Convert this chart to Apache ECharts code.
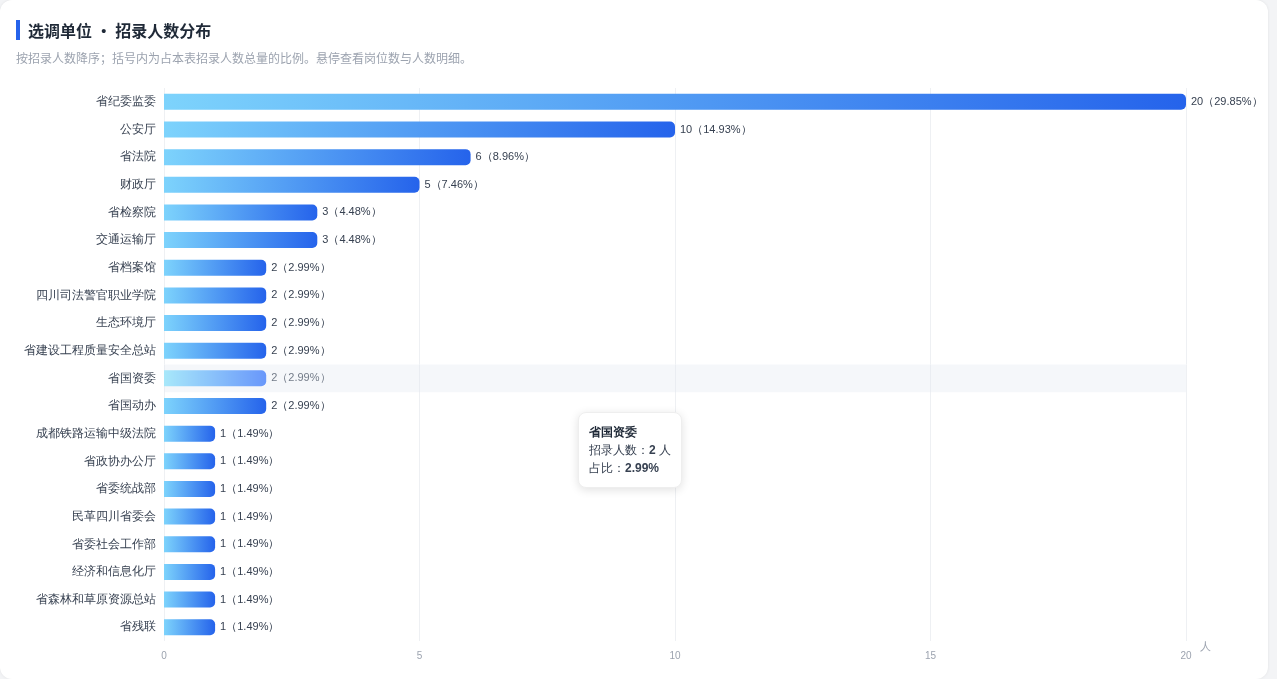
<!DOCTYPE html>
<html><head><meta charset="utf-8">
<script src="https://cdn.jsdelivr.net/npm/echarts@6/dist/echarts.min.js"></script>
<style>
html,body{margin:0;padding:0;background:#f3f4f6;font-family:"Noto Sans CJK SC","Noto Sans",sans-serif;}
#card{position:absolute;left:0;top:0;width:1268px;height:679px;background:#fff;border-radius:12px;overflow:hidden;box-shadow:0 0 3px rgba(0,0,0,0.08);}
#title{position:absolute;left:16px;top:20px;font-size:16px;font-weight:bold;color:#1f2937;border-left:4px solid #2563eb;padding-left:8px;line-height:20px;}
#sub{position:absolute;left:16px;top:49px;font-size:12px;color:#9ca3af;}
#chart{position:absolute;left:0;top:0;width:1268px;height:679px;}
</style></head><body>
<div id="card"><div id="chart"></div><div id="title">选调单位 • 招录人数分布</div><div id="sub">按招录人数降序；括号内为占本表招录人数总量的比例。悬停查看岗位数与人数明细。</div></div>
<script>
const categories=["省纪委监委","公安厅","省法院","财政厅","省检察院","交通运输厅","省档案馆","四川司法警官职业学院","生态环境厅","省建设工程质量安全总站","省国资委","省国动办","成都铁路运输中级法院","省政协办公厅","省委统战部","民革四川省委会","省委社会工作部","经济和信息化厅","省森林和草原资源总站","省残联"];
const values=[20,10,6,5,3,3,2,2,2,2,2,2,1,1,1,1,1,1,1,1];
const percents=["29.85","14.93","8.96","7.46","4.48","4.48","2.99","2.99","2.99","2.99","2.99","2.99","1.49","1.49","1.49","1.49","1.49","1.49","1.49","1.49"];
const chart=echarts.init(document.getElementById('chart'));
chart.setOption({
  animation:false,
  grid:{left:164,right:82,top:88,bottom:38,containLabel:false},
  tooltip:{trigger:'axis',axisPointer:{type:'shadow',shadowStyle:{color:'rgba(226,232,240,0.35)'}},
    backgroundColor:'#fff',borderColor:'#eee',borderWidth:1,padding:[10,10],extraCssText:'border-radius:8px;box-shadow:0 2px 10px rgba(0,0,0,0.12);',
    textStyle:{fontSize:12,color:'#374151'},
    formatter:p=>{const i=p[0].dataIndex;return '<b style="color:#1f2937">'+categories[i]+'</b><br/>招录人数：<b>'+values[i]+'</b> 人<br/>占比：<b>'+percents[i]+'%</b>';},
    position:[578,412]},
  xAxis:{type:'value',min:0,max:20,interval:5,name:'人',nameGap:14,nameTextStyle:{color:'#9ca3af',fontSize:11,verticalAlign:'top',padding:[0,0,0,0]},
    axisLabel:{color:'#9ca3af',fontSize:10,margin:10},splitLine:{lineStyle:{color:'#eef0f3'}},axisLine:{show:false},axisTick:{show:false}},
  yAxis:{type:'category',inverse:true,data:categories,axisLabel:{color:'#374151',fontSize:12,margin:8},axisLine:{show:false},axisTick:{show:false}},
  series:[{type:'bar',barWidth:16,data:values,
    itemStyle:{borderRadius:[0,5,5,0],color:new echarts.graphic.LinearGradient(0,0,1,0,[{offset:0,color:'#7dd3fc'},{offset:1,color:'#2563eb'}])},
    label:{show:true,position:'right',distance:5,color:'#374151',fontSize:11,formatter:p=>p.value+'（'+percents[p.dataIndex]+'%）'}}]
});
chart.dispatchAction({type:'showTip',seriesIndex:0,dataIndex:10});
</script></body></html>
